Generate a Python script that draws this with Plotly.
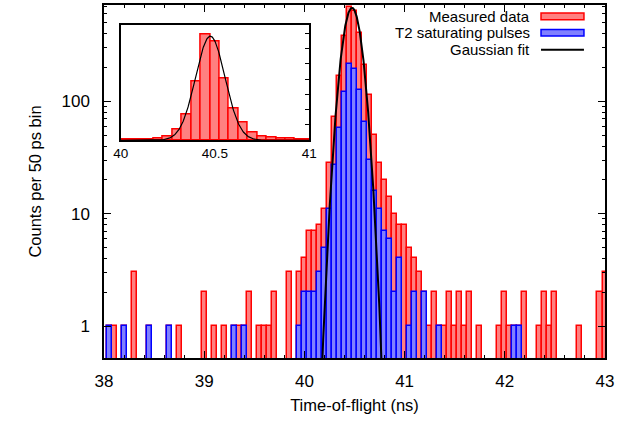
import numpy as np
import plotly.graph_objects as go

# ---- data ----
bin_start = 38.0          # ns, centre of first bin
bin_width = 0.05          # ns (50 ps bins)

measured_counts = [
    0, 1, 1, 0, 1, 0, 3, 0, 0, 1,
    0, 0, 0, 1, 0, 1, 0, 0, 0, 0,
    2, 0, 1, 0, 1, 0, 1, 1, 1, 2,
    0, 1, 1, 1, 2, 0, 0, 3, 0, 3,
    4, 7, 7, 8, 11, 28, 72, 167, 385, 688,
    643, 407, 210, 115, 50, 28, 20, 14, 10, 8,
    8, 5, 4, 3, 2, 1, 2, 1, 1, 2,
    1, 2, 1, 2, 0, 1, 0, 0, 0, 1,
    2, 1, 1, 1, 2, 0, 0, 1, 2, 1,
    2, 0, 0, 0, 0, 1, 0, 0, 0, 2,
    3,
]

t2_counts = [
    0, 1, 0, 0, 1, 0, 0, 0, 0, 1,
    0, 0, 0, 1, 0, 0, 0, 0, 0, 0,
    0, 0, 0, 0, 0, 0, 1, 0, 1, 0,
    0, 0, 0, 0, 0, 0, 0, 0, 0, 1,
    2, 2, 2, 3, 5, 11, 27, 58, 121, 213,
    195, 125, 65, 30, 16, 11, 7, 6, 2, 4,
    0, 1, 2, 0, 2, 0, 0, 1, 0, 0,
    0, 0, 0, 0, 0, 0, 0, 0, 0, 0,
    0, 0, 1, 1, 0, 0, 0, 0, 0, 0,
    0, 0, 0, 0, 0, 0, 0, 0, 0, 0,
    0,
]

fit_amplitude = 680.0
fit_mean = 40.475
fit_sigma = 0.078

x_ticks = [38, 39, 40, 41, 42, 43]
y_ticks = [1, 10, 100]
y_minor = [2, 3, 4, 5, 6, 7, 8, 9, 20, 30, 40, 50, 60, 70, 80, 90, 200, 300, 400, 500, 600, 700]
inset_x_ticks = [40, 40.5, 41]
inset_y_ticks = [100, 200, 300, 400, 500, 600, 700]

legend_labels = ["Measured data", "T2 saturating pulses", "Gaussian fit"]

# ---- derived ----
centers = np.round(bin_start + bin_width * np.arange(len(measured_counts)), 3)
meas_y = [c if c > 0 else None for c in measured_counts]
t2_y = [c if c > 0 else None for c in t2_counts]

def gauss(x):
    return fit_amplitude * np.exp(-(x - fit_mean) ** 2 / (2 * fit_sigma ** 2))

xf_main = np.linspace(fit_mean - 0.36, fit_mean + 0.36, 400)
xf_inset = np.linspace(40.0, 41.0, 400)

inset_mask = (centers >= 39.99) & (centers <= 41.01)

RED_FILL = "#ff8080"
BLUE_FILL = "#8080ff"

fig = go.Figure()
fig.add_trace(go.Bar(x=centers, y=meas_y, width=bin_width,
                     marker=dict(color=RED_FILL, line=dict(color="#ff0000", width=1.5)),
                     name=legend_labels[0], xaxis="x", yaxis="y"))
fig.add_trace(go.Bar(x=centers, y=t2_y, width=bin_width,
                     marker=dict(color=BLUE_FILL, line=dict(color="#0000ff", width=1.5)),
                     name=legend_labels[1], xaxis="x", yaxis="y"))
fig.add_trace(go.Scatter(x=xf_main, y=gauss(xf_main), mode="lines",
                         line=dict(color="black", width=2), name=legend_labels[2],
                         xaxis="x", yaxis="y"))

# inset
fig.add_trace(go.Bar(x=centers[inset_mask], y=np.array(measured_counts)[inset_mask], width=bin_width,
                     marker=dict(color=RED_FILL, line=dict(color="#ff0000", width=1.5)),
                     xaxis="x2", yaxis="y2", showlegend=False))
fig.add_trace(go.Scatter(x=xf_inset, y=gauss(xf_inset), mode="lines",
                         line=dict(color="black", width=1.2),
                         xaxis="x2", yaxis="y2", showlegend=False))

FONT = "Liberation Sans, Arial, Helvetica, sans-serif"

fig.update_layout(
    width=639, height=423,
    margin=dict(l=104, r=34, t=4.5, b=65, pad=0),
    plot_bgcolor="white", paper_bgcolor="white",
    showlegend=False, barmode="overlay", bargap=0,
    font=dict(family=FONT, size=17, color="black"),
    xaxis=dict(
        domain=[0, 1], range=[38, 43], anchor="y",
        tickvals=x_ticks, ticktext=[str(v) for v in x_ticks],
        ticks="inside", ticklen=7, tickwidth=1, tickcolor="black",
        showline=True, linewidth=1.5, linecolor="black", mirror="allticks",
        showgrid=False, zeroline=False,
        minor=dict(tick0=38, dtick=0.2, ticks="inside", ticklen=3.5, tickcolor="black", showgrid=False),
        ticklabelstandoff=7,
        title=dict(text="Time-of-flight (ns)", standoff=9, font=dict(size=16.5)),
    ),
    yaxis=dict(
        domain=[0, 1], type="log", range=[-0.2844, 2.8578], anchor="x",
        tickvals=y_ticks, ticktext=[str(v) for v in y_ticks],
        ticks="inside", ticklen=7, tickwidth=1, tickcolor="black",
        showline=True, linewidth=1.5, linecolor="black", mirror="allticks",
        showgrid=False, zeroline=False,
        minor=dict(tickvals=y_minor, ticks="inside", ticklen=3.5, tickcolor="black", showgrid=False),
        ticklabelstandoff=9,
        title=dict(text="Counts per 50 ps bin", standoff=16, font=dict(size=16.5)),
    ),
    xaxis2=dict(
        domain=[0.0333, 0.4098], range=[40, 41], anchor="y2",
        tickvals=inset_x_ticks, ticktext=["40", "40.5", "41"],
        ticks="", showline=True, linewidth=1.5, linecolor="black", mirror=True,
        showgrid=False, zeroline=False, tickfont=dict(size=13.5),
        ticklabelstandoff=0,
    ),
    yaxis2=dict(
        domain=[0.6167, 0.942], range=[0, 750], anchor="x2", side="right",
        tickvals=inset_y_ticks, showticklabels=False,
        ticks="inside", ticklen=5, tickcolor="black",
        showline=True, linewidth=1.5, linecolor="black", mirror=True,
        showgrid=False, zeroline=False,
    ),
)

# gnuplot-style key (text right-aligned, sample on the right)
key_x_text = 0.854
key_rows = [0.9675, 0.9214, 0.8733]
sx0, sx1 = 0.8723, 0.958
for label, yy in zip(legend_labels, key_rows):
    fig.add_annotation(x=key_x_text, y=yy, xref="paper", yref="paper", text=label,
                       showarrow=False, xanchor="right", yanchor="middle",
                       font=dict(size=15, family=FONT))
fig.add_shape(type="rect", xref="paper", yref="paper", x0=sx0, x1=sx1,
              y0=key_rows[0] - 0.0095, y1=key_rows[0] + 0.0095,
              fillcolor=RED_FILL, line=dict(color="#ff0000", width=1.5))
fig.add_shape(type="rect", xref="paper", yref="paper", x0=sx0, x1=sx1,
              y0=key_rows[1] - 0.0095, y1=key_rows[1] + 0.0095,
              fillcolor=BLUE_FILL, line=dict(color="#0000ff", width=1.5))
fig.add_shape(type="line", xref="paper", yref="paper", x0=sx0, x1=sx1,
              y0=key_rows[2], y1=key_rows[2], line=dict(color="black", width=2))

fig.write_html("out.html", config={"displayModeBar": False},
               post_script="document.body.style.margin='0px';document.body.style.overflow='hidden';")
